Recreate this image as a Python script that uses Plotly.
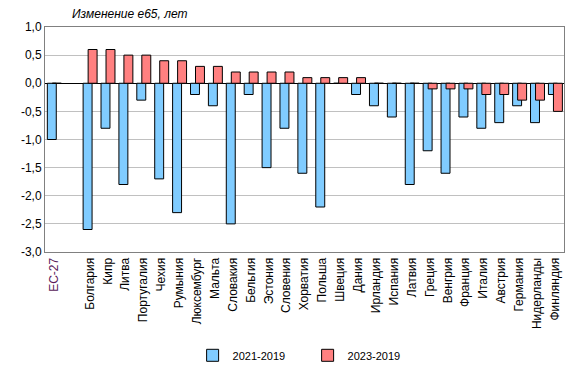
import plotly.graph_objects as go

categories = ["ЕС-27", " ", "Болгария", "Кипр", "Литва", "Португалия", "Чехия", "Румыния",
              "Люксембург", "Мальта", "Словакия", "Бельгия", "Эстония", "Словения", "Хорватия",
              "Польша", "Швеция", "Дания", "Ирландия", "Испания", "Латвия", "Греция", "Венгрия",
              "Франция", "Италия", "Австрия", "Германия", "Нидерланды", "Финляндия"]

change_2021_2019 = [-1.0, None, -2.6, -0.8, -1.8, -0.3, -1.7, -2.3, -0.2, -0.4, -2.5, -0.2, -1.5, -0.8,
                    -1.6, -2.2, 0.0, -0.2, -0.4, -0.6, -1.8, -1.2, -1.6, -0.6, -0.8, -0.7, -0.4, -0.7, -0.2]
change_2023_2019 = [0.0, None, 0.6, 0.6, 0.5, 0.5, 0.4, 0.4, 0.3, 0.3, 0.2, 0.2, 0.2, 0.2,
                    0.1, 0.1, 0.1, 0.1, 0.0, 0.0, 0.0, -0.1, -0.1, -0.1, -0.2, -0.2, -0.3, -0.3, -0.5]

series_names = ["2021-2019", "2023-2019"]
y_tickvals = [1.0, 0.5, 0.0, -0.5, -1.0, -1.5, -2.0, -2.5, -3.0]
y_ticktext = ["1,0", "0,5", "0,0", "-0,5", "-1,0", "-1,5", "-2,0", "-2,5", "-3,0"]
title_text = "Изменение e65, лет"

x_idx = list(range(len(categories)))
x_ticktext = ["<span style='color:#5a1a5a'>" + c + "</span>" if c == "ЕС-27" else c for c in categories]

fig = go.Figure()
fig.add_trace(go.Bar(
    x=x_idx, y=change_2021_2019, name=series_names[0],
    width=0.5, offset=-0.37,
    marker=dict(color="#80CCFF", line=dict(color="#000000", width=1)),
))
fig.add_trace(go.Bar(
    x=x_idx, y=change_2023_2019, name=series_names[1],
    width=0.5, offset=-0.09,
    marker=dict(color="#FF8080", line=dict(color="#000000", width=1)),
))

fig.update_layout(
    width=579, height=374,
    margin=dict(l=45, r=15, t=27, b=122),
    paper_bgcolor="white", plot_bgcolor="white",
    barmode="overlay",
    font=dict(family="Liberation Sans, Arial, sans-serif", size=12, color="#000000"),
    showlegend=True,
    legend=dict(orientation="h", xref="paper", x=0.506, xanchor="center",
                yref="container", y=0.05, yanchor="middle",
                font=dict(size=11, color="#000000"), itemwidth=30,
                entrywidth=70, entrywidthmode="pixels",
                bgcolor="rgba(0,0,0,0)"),
    annotations=[dict(text="<i>" + title_text + "</i>", xref="paper", yref="paper",
                      x=0.048, y=1.0, xanchor="left", yanchor="bottom", yshift=4,
                      showarrow=False, font=dict(size=12, color="#000000"))],
)

fig.update_xaxes(
    range=[-0.5, len(categories) - 0.5],
    tickmode="array", tickvals=x_idx, ticktext=x_ticktext,
    tickangle=-90, ticks="", showgrid=False, zeroline=False,
    showline=True, linecolor="#808080", linewidth=1, mirror=True,
    tickfont=dict(size=12, color="#000000"), automargin=False,
)
fig.update_yaxes(
    range=[-3.0, 1.0],
    tickmode="array", tickvals=y_tickvals, ticktext=y_ticktext,
    showgrid=True, gridcolor="#C0C0C0", gridwidth=1,
    zeroline=True, zerolinecolor="#000000", zerolinewidth=1,
    showline=True, linecolor="#808080", linewidth=1, mirror=True,
    ticks="", tickfont=dict(size=12, color="#000000"), automargin=False,
)

fig.write_html("out.html", config={"displayModeBar": False},
               post_script="document.body.style.margin='0';")
